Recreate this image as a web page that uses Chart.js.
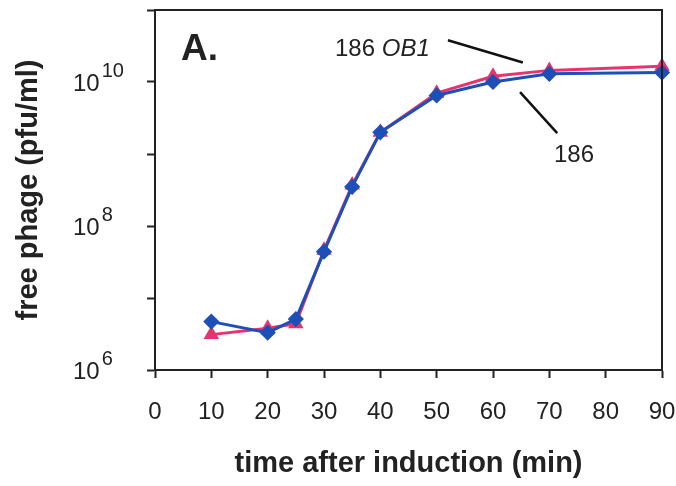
<!DOCTYPE html>
<html>
<head>
<meta charset="utf-8">
<script src="https://cdn.jsdelivr.net/npm/chart.js@4/dist/chart.umd.min.js"></script>
<style>
  html, body { margin: 0; padding: 0; background: #fff; }
  #wrap { width: 676px; height: 486px; }
</style>
</head>
<body>
<div id="wrap"><canvas id="phageChart" width="676" height="486"></canvas></div>
<script>
// time points (min after induction)
const timeMin = [10, 20, 25, 30, 35, 40, 50, 60, 70, 90];
// free phage, pfu/ml
const phage186 = [4.7e6, 3.3e6, 5.1e6, 4.4e7, 3.5e8, 2.0e9, 6.5e9, 1.0e10, 1.3e10, 1.35e10];
const phageOB1 = [3.1e6, 3.8e6, 4.4e6, 4.6e7, 3.7e8, 2.0e9, 7.0e9, 1.2e10, 1.45e10, 1.65e10];
// axis ticks
const xTicks = [0, 10, 20, 30, 40, 50, 60, 70, 80, 90];
const yDecades = [6, 7, 8, 9, 10, 11];
const yLabelExps = [6, 8, 10];

const FONT = "'Liberation Sans', Arial, Helvetica, sans-serif";
const RED = '#e8336e';
const BLUE = '#1d4fb8';

// superscript tick labels, frame and annotations
const extras = {
    id: 'extras',
    afterDraw(chart) {
        const { ctx, chartArea: a, scales: { x, y } } = chart;
        ctx.save();

        // top + right frame
        ctx.strokeStyle = '#222';
        ctx.lineWidth = 2;
        ctx.beginPath();
        ctx.moveTo(a.left, a.top);
        ctx.lineTo(a.right, a.top);
        ctx.lineTo(a.right, a.bottom);
        ctx.stroke();

        // y labels 10^n
        ctx.fillStyle = '#222';
        ctx.textBaseline = 'alphabetic';
        ctx.textAlign = 'left';
        yLabelExps.forEach(e => {
            const py = y.getPixelForValue(Math.pow(10, e));
            ctx.font = '24px ' + FONT;
            ctx.fillText('10', 73, py + 9);
            const w = ctx.measureText('10').width;
            ctx.font = '20px ' + FONT;
            ctx.fillText(String(e), 73 + w + 2, py - 5);
        });

        // panel letter
        ctx.font = 'bold 37px ' + FONT;
        ctx.fillText('A.', 181, 60);

        // series labels
        ctx.font = '24px ' + FONT;
        ctx.fillText('186 ', 335, 56);
        const w186 = ctx.measureText('186 ').width;
        ctx.font = 'italic 24px ' + FONT;
        ctx.fillText('OB1', 335 + w186, 56);
        ctx.font = '24px ' + FONT;
        ctx.fillText('186', 554, 162);

        // leader lines
        ctx.lineWidth = 2.5;
        ctx.strokeStyle = '#111';
        ctx.beginPath();
        ctx.moveTo(x.getPixelForValue(52.0), y.getPixelForValue(Math.pow(10, 10.58)));
        ctx.lineTo(x.getPixelForValue(65.3), y.getPixelForValue(Math.pow(10, 10.27)));
        ctx.moveTo(x.getPixelForValue(64.8), y.getPixelForValue(Math.pow(10, 9.86)));
        ctx.lineTo(x.getPixelForValue(71.4), y.getPixelForValue(Math.pow(10, 9.29)));
        ctx.stroke();

        ctx.restore();
    }
};

new Chart(document.getElementById('phageChart'), {
    type: 'line',
    data: {
        datasets: [{
            label: '186',
            data: timeMin.map((t, i) => ({ x: t, y: phage186[i] })),
            borderColor: BLUE,
            backgroundColor: BLUE,
            borderWidth: 3,
            pointStyle: 'rectRot',
            pointRadius: 6,
            tension: 0,
            clip: false,
            order: 1
        }, {
            label: '186 OB1',
            data: timeMin.map((t, i) => ({ x: t, y: phageOB1[i] })),
            borderColor: RED,
            backgroundColor: RED,
            borderWidth: 3,
            pointStyle: 'triangle',
            pointRadius: 6,
            tension: 0,
            clip: false,
            order: 2
        }]
    },
    options: {
        responsive: false,
        animation: false,
        layout: { padding: { top: 10, right: 14, left: 0, bottom: 0 } },
        plugins: {
            legend: { display: false },
            tooltip: { enabled: false }
        },
        scales: {
            x: {
                type: 'linear',
                min: 0,
                max: 90,
                afterBuildTicks: s => { s.ticks = xTicks.map(v => ({ value: v })); },
                afterFit: s => { s.height = 116; s.paddingLeft = 0; s.paddingRight = 0; },
                border: { display: true, color: '#222', width: 2 },
                grid: { drawOnChartArea: false, drawTicks: true, tickLength: 8, tickColor: '#222', tickWidth: 2 },
                ticks: { color: '#222', font: { family: FONT, size: 24 }, padding: 20, maxRotation: 0 },
                title: {
                    display: true,
                    text: 'time after induction (min)',
                    color: '#222',
                    font: { family: FONT, size: 29, weight: 'bold' },
                    padding: { top: 0, bottom: 5 }
                }
            },
            y: {
                type: 'logarithmic',
                min: 1e6,
                max: 1e11,
                afterBuildTicks: s => { s.ticks = yDecades.map(e => ({ value: Math.pow(10, e) })); },
                afterFit: s => { s.width = 155; s.paddingTop = 0; s.paddingBottom = 0; },
                border: { display: true, color: '#222', width: 2 },
                grid: { drawOnChartArea: false, drawTicks: true, tickLength: 8, tickColor: '#222', tickWidth: 2 },
                ticks: { display: false },
                title: {
                    display: true,
                    text: 'free phage (pfu/ml)',
                    color: '#222',
                    font: { family: FONT, size: 29, weight: 'bold' },
                    padding: { top: 12, bottom: 0 }
                }
            }
        }
    },
    plugins: [extras]
});
</script>
</body>
</html>
